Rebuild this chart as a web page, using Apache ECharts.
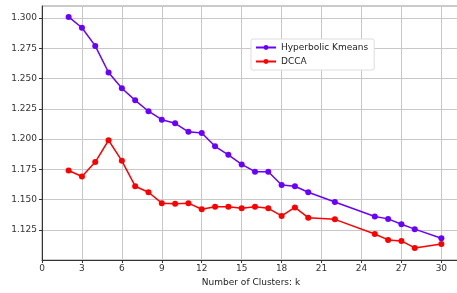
<!DOCTYPE html>
<html><head><meta charset="utf-8">
<script src="https://cdn.jsdelivr.net/npm/echarts@6/dist/echarts.min.js"></script>
<style>html,body{margin:0;padding:0;background:#fff;overflow:hidden}#c{width:466px;height:293px}</style>
</head><body><div id="c"></div>
<script>
var kValues = [2,3,4,5,6,7,8,9,10,11,12,13,14,15,16,17,18,19,20,22,25,26,27,28,30];
var hyperbolicKmeans = [1.301,1.292,1.277,1.255,1.242,1.232,1.223,1.216,1.213,1.206,1.205,1.194,1.187,1.179,1.173,1.173,1.162,1.161,1.156,1.148,1.136,1.134,1.1295,1.1255,1.118];
var dcca = [1.174,1.169,1.181,1.199,1.182,1.161,1.156,1.147,1.1466,1.147,1.142,1.144,1.144,1.1427,1.144,1.1427,1.1364,1.1435,1.135,1.1336,1.1215,1.1166,1.1158,1.110,1.1133];
var seriesNames = ['Hyperbolic Kmeans','DCCA'];
var xLabel = 'Number of Clusters: k';

function pairs(vals){ return kValues.map(function(k,i){ return [k, vals[i]]; }); }
var font = 'DejaVu Sans';
var chart = echarts.init(document.getElementById('c'));
chart.setOption({
  animation:false,
  backgroundColor:'#fff',
  textStyle:{fontFamily:font},
  grid:{left:42,right:6,top:6,bottom:33,show:true,borderColor:'#999',borderWidth:1,containLabel:false},
  legend:{
    data:seriesNames, orient:'vertical', left:251, top:39,
    backgroundColor:'#fff', borderColor:'#ddd', borderWidth:1, borderRadius:2,
    padding:[4,6,4,4], itemGap:5, itemWidth:20, itemHeight:6,
    textStyle:{fontFamily:font,fontSize:9,color:'#222'}
  },
  xAxis:{
    type:'value', min:0, max:31.4, interval:3,
    name:xLabel, nameLocation:'middle', nameGap:17,
    nameTextStyle:{fontFamily:font,fontSize:9,color:'#222'},
    axisLine:{show:true,lineStyle:{color:'#333',width:1}},
    axisTick:{show:true,length:3,lineStyle:{color:'#333'}},
    axisLabel:{fontFamily:font,fontSize:9,color:'#333',margin:4,showMaxLabel:false},
    splitLine:{show:true,lineStyle:{color:'#c8c8c8',width:1}}
  },
  yAxis:{
    type:'value', min:1.1, max:1.31, interval:0.025,
    axisLine:{show:true,lineStyle:{color:'#333',width:1}},
    axisTick:{show:true,length:3,lineStyle:{color:'#333'}},
    axisLabel:{fontFamily:font,fontSize:9,color:'#333',margin:5,showMinLabel:false,showMaxLabel:false,
      formatter:function(v){return v.toFixed(3);}},
    splitLine:{show:true,lineStyle:{color:'#c8c8c8',width:1}}
  },
  series:[
    {name:seriesNames[0],type:'line',data:pairs(hyperbolicKmeans),symbol:'circle',symbolSize:6,
     itemStyle:{color:'#6a00ff'},lineStyle:{color:'#6a00ff',width:1.5}},
    {name:seriesNames[1],type:'line',data:pairs(dcca),symbol:'circle',symbolSize:6,
     itemStyle:{color:'#ff0000'},lineStyle:{color:'#ff0000',width:1.5}}
  ]
});
</script></body></html>
